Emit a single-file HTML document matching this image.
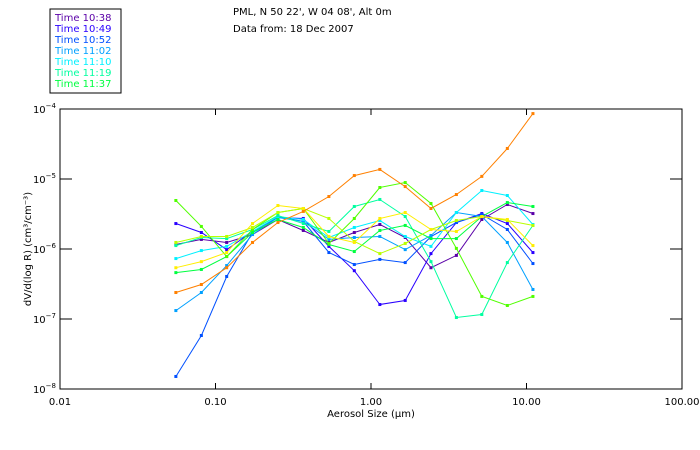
<!DOCTYPE html>
<html><head><meta charset="utf-8"><style>
body{margin:0;background:#fff;width:700px;height:450px;overflow:hidden}
svg{display:block;font-family:"DejaVu Sans","Liberation Sans",sans-serif}
</style></head><body>
<svg id="c" width="700" height="450">
<rect x="50" y="9" width="71" height="84" fill="#fff" stroke="#000" stroke-width="1"/>
<g id="legend"></g>
<text x="233" y="15" font-size="10">PML, N 50 22', W 04 08', Alt 0m</text>
<text x="233" y="32" font-size="10">Data from: 18 Dec 2007</text>
<g id="axes"></g>
<g id="series"></g>
<text x="371" y="417" font-size="10" text-anchor="middle">Aerosol Size (μm)</text>
<text transform="translate(31,249) rotate(-90)" font-size="10" text-anchor="middle">dV/d(log R) (cm³/cm⁻³)</text>
</svg>
<script>
const sizes=[0.0556,0.0811,0.118,0.173,0.252,0.367,0.536,0.781,1.14,1.66,2.43,3.54,5.16,7.53,11.0];
const xTickVals=[0.01,0.1,1,10,100];
const xTickLabels=["0.01","0.10","1.00","10.00","100.00"];
const yTickExps=[-4,-5,-6,-7,-8];
const legendLabels=["Time 10:38","Time 10:49","Time 10:52","Time 11:02","Time 11:10","Time 11:19","Time 11:37"];
const colors=["#5a00a8","#2a00ff","#0050ff","#00a0ff","#00f0ff","#00ffa0","#00ff40","#50ff00","#b8ff00","#ffee00","#ff8000"];
const s1038=[1.16e-6,1.37e-6,1.24e-6,1.61e-6,2.64e-6,1.84e-6,1.24e-6,1.72e-6,2.24e-6,1.46e-6,5.4e-7,8.1e-7,2.64e-6,4.32e-6,3.21e-6];
const s1049=[2.31e-6,1.72e-6,9.8e-7,1.78e-6,2.82e-6,2.73e-6,1.09e-6,4.9e-7,1.61e-7,1.84e-7,8.6e-7,2.39e-6,3.21e-6,2.31e-6,8.9e-7];
const s1052=[1.51e-8,5.81e-8,4.05e-7,1.72e-6,2.91e-6,2.47e-6,8.9e-7,6.0e-7,7.1e-7,6.4e-7,1.51e-6,2.39e-6,3.11e-6,1.9e-6,6.2e-7];
const s1102=[1.32e-7,2.39e-7,5.8e-7,1.61e-6,2.82e-6,2.47e-6,1.37e-6,1.46e-6,1.51e-6,9.8e-7,1.56e-6,3.32e-6,2.91e-6,1.24e-6,2.64e-7];
const s1110=[7.3e-7,9.5e-7,1.09e-6,1.78e-6,2.91e-6,2.64e-6,1.46e-6,2.03e-6,2.55e-6,1.51e-6,1.09e-6,3.32e-6,6.85e-6,5.81e-6,2.24e-6];
const s1119=[1.12e-6,1.46e-6,1.41e-6,1.9e-6,3.01e-6,2.31e-6,1.78e-6,4.05e-6,5.1e-6,2.91e-6,6.6e-7,1.05e-7,1.16e-7,6.4e-7,2.17e-6];
const s1137=[4.6e-7,5.1e-7,7.8e-7,1.72e-6,2.64e-6,2.03e-6,1.16e-6,9.2e-7,1.84e-6,2.17e-6,1.41e-6,1.41e-6,2.91e-6,4.61e-6,4.05e-6];
const sLime=[4.93e-6,2.1e-6,7.8e-7,1.9e-6,3.32e-6,3.79e-6,1.2e-6,2.73e-6,7.56e-6,8.9e-6,4.47e-6,1.02e-6,2.1e-7,1.56e-7,2.1e-7];
const sYelGreen=[1.24e-6,1.51e-6,1.51e-6,2.03e-6,3.32e-6,3.79e-6,2.73e-6,1.28e-6,8.6e-7,1.2e-6,1.9e-6,2.55e-6,2.91e-6,2.55e-6,2.17e-6];
const sYellow=[5.4e-7,6.6e-7,8.9e-7,2.31e-6,4.18e-6,3.79e-6,1.51e-6,1.24e-6,2.73e-6,3.32e-6,1.9e-6,1.78e-6,2.91e-6,2.64e-6,1.12e-6];
const sOrange=[2.39e-7,3.11e-7,5.4e-7,1.24e-6,2.39e-6,3.44e-6,5.62e-6,1.12e-5,1.37e-5,7.8e-6,3.79e-6,6.0e-6,1.09e-5,2.73e-5,8.6e-5];
const allSeries=[s1038,s1049,s1052,s1102,s1110,s1119,s1137,sLime,sYelGreen,sYellow,sOrange];
const seriesNames=["series-10-38","series-10-49","series-10-52","series-11-02","series-11-10","series-11-19","series-11-37","series-lime","series-yellow-green","series-yellow","series-orange"];

const L=60,R=682,T=109,B=389;
const xs=v=>L+(Math.log10(v)+2)/4*(R-L);
const ys=v=>T+(-4-Math.log10(v))/4*(B-T);
const NS="http://www.w3.org/2000/svg";
function mk(tag,parent,attrs){const e=document.createElementNS(NS,tag);for(const k in attrs)e.setAttribute(k,attrs[k]);parent.appendChild(e);return e;}
const axes=document.getElementById('axes');
const frame=mk('rect',axes,{x:L,y:T,width:R-L,height:B-T,fill:'none',stroke:'#000','stroke-width':1});


xTickVals.forEach((v,i)=>{
  const x=xs(v);
  const t1=mk('line',axes,{x1:x,x2:x,y1:B,y2:B-6,stroke:'#000'});
  
  
  const t2=mk('line',axes,{x1:x,x2:x,y1:T,y2:T+6,stroke:'#000'});
  
  
  const tx=mk('text',axes,{x:x,y:B+16,'font-size':10,'text-anchor':'middle'});
  tx.textContent=xTickLabels[i];
  
  
});
yTickExps.forEach(e=>{
  const y=ys(Math.pow(10,e));
  const t1=mk('line',axes,{x1:L,x2:L+12,y1:y,y2:y,stroke:'#000'});
  
  
  const t2=mk('line',axes,{x1:R,x2:R-12,y1:y,y2:y,stroke:'#000'});
  
  
  const tx=mk('text',axes,{x:L-4,y:y+4,'font-size':10,'text-anchor':'end'});
  tx.textContent='10';
  const sp=mk('tspan',tx,{dy:-5,'font-size':7});
  sp.textContent=String(e).replace('-','−');
  
  
});
const sg=document.getElementById('series');
allSeries.forEach((s,i)=>{
  const g=mk('g',sg,{});
  
  
  const pts=s.map((v,j)=>xs(sizes[j]).toFixed(1)+','+ys(v).toFixed(1)).join(' ');
  const pl=mk('polyline',g,{points:pts,fill:'none',stroke:colors[i],'stroke-width':1});
  
  
  s.forEach((v,j)=>{
    const r=mk('rect',g,{x:xs(sizes[j])-1.5,y:ys(v)-1.5,width:3,height:3,fill:colors[i]});
    
    
  });
});
const lg=document.getElementById('legend');
legendLabels.forEach((t,i)=>{
  const tx=mk('text',lg,{x:55,y:21+i*11,'font-size':10,fill:colors[i]});
  tx.textContent=t;
  
  
});
</script>
</body></html>
